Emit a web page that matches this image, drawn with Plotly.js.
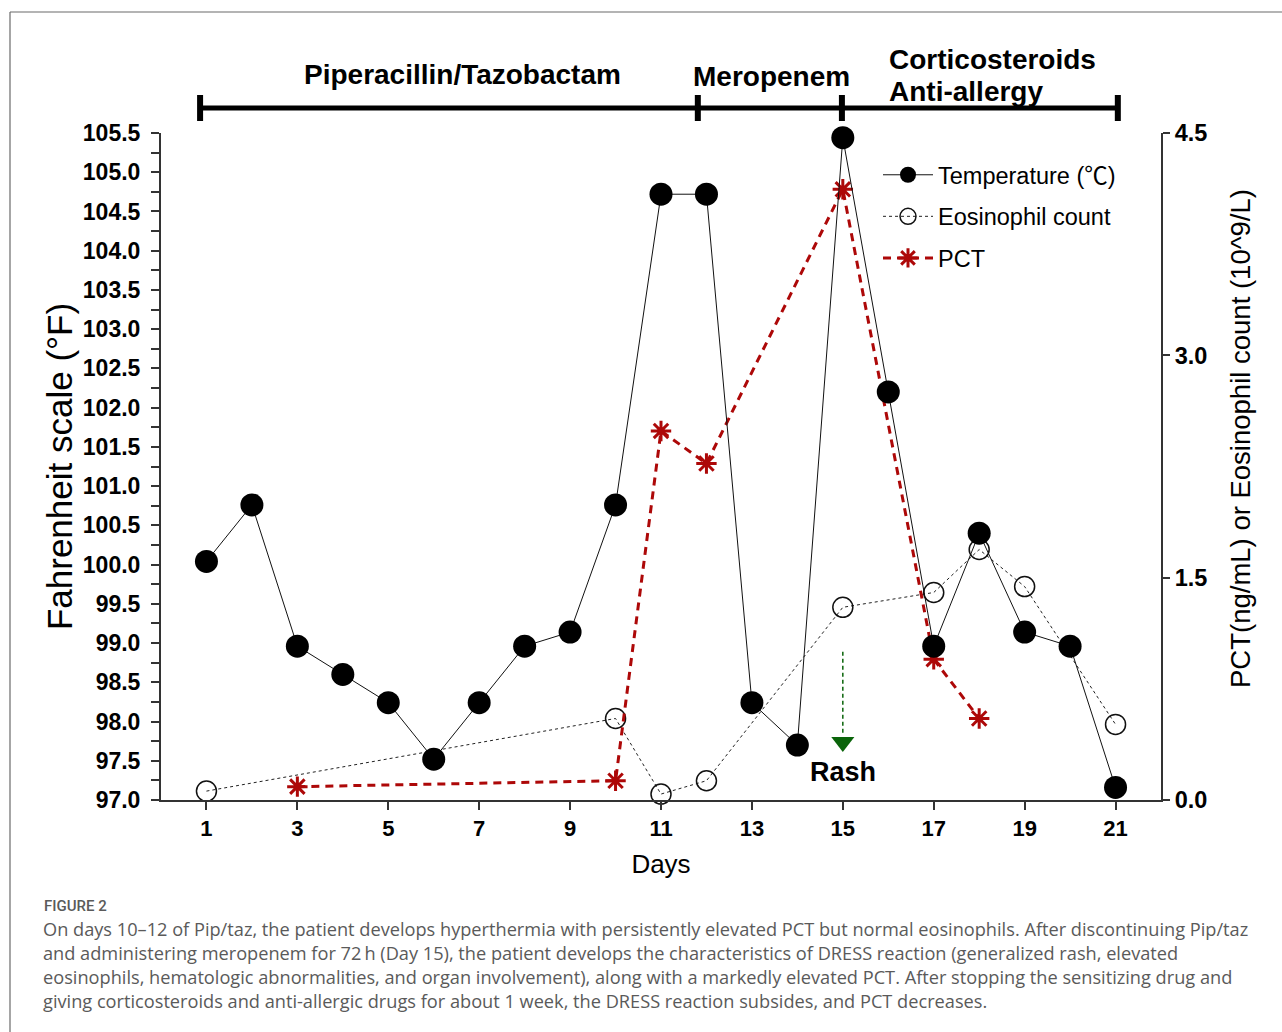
<!DOCTYPE html>
<html>
<head>
<meta charset="utf-8">
<script src="https://cdn.plot.ly/plotly-3.0.1.min.js"></script>
<style>
  html, body { margin: 0; padding: 0; background: #ffffff; }
  #chart { width: 1282px; height: 1032px; }
</style>
</head>
<body>
<div id="chart"></div>
<script>
// ---------- DATA ----------
const days = [1, 2, 3, 4, 5, 6, 7, 8, 9, 10, 11, 12, 13, 14, 15, 16, 17, 18, 19, 20, 21];
const temperatureF = [100.04, 100.76, 98.96, 98.6, 98.24, 97.52, 98.24, 98.96, 99.14, 100.76,
                      104.72, 104.72, 98.24, 97.7, 105.44, 102.2, 98.96, 100.4, 99.14, 98.96, 97.16];
const eosDays = [1, 10, 11, 12, 15, 17, 18, 19, 21];
const eosCount = [0.06, 0.55, 0.04, 0.13, 1.30, 1.40, 1.69, 1.44, 0.51];
const pctDays = [3, 10, 11, 12, 15, 17, 18];
const pctValues = [0.09, 0.13, 2.49, 2.27, 4.12, 0.95, 0.55];

const xTickVals = [1, 3, 5, 7, 9, 11, 13, 15, 17, 19, 21];
const rightTickVals = [0, 1.5, 3.0, 4.5];
const seriesNames = ['Temperature (\u2103)', 'Eosinophil count', 'PCT'];
const leftAxisTitle = 'Fahrenheit scale (\u00B0F)';
const rightAxisTitle = 'PCT(ng/mL) or Eosinophil count (10^9/L)';
const xAxisTitle = 'Days';

// treatment periods (day boundaries) and labels
const periodBounds = [0.86, 11.81, 14.98, 21.05];
const periodLabels = ['Piperacillin/Tazobactam', 'Meropenem', 'Corticosteroids', 'Anti-allergy'];
const rashDay = 15;
const rashLabel = 'Rash';

const captionTitle = 'FIGURE 2';
const captionLines = [
  'On days 10\u201312 of Pip/taz, the patient develops hyperthermia with persistently elevated PCT but normal eosinophils. After discontinuing Pip/taz',
  'and administering meropenem for 72\u2009h (Day 15), the patient develops the characteristics of DRESS reaction (generalized rash, elevated',
  'eosinophils, hematologic abnormalities, and organ involvement), along with a markedly elevated PCT. After stopping the sensitizing drug and',
  'giving corticosteroids and anti-allergic drugs for about 1 week, the DRESS reaction subsides, and PCT decreases.'
];

// ---------- STYLE ----------
const ARIAL = 'Liberation Sans, Arial, Helvetica, sans-serif';
const RED = '#ad0808';
const GREEN = '#0a640a';
const AX = '#333333';

// pixel helpers for the plot geometry (plot area 161..1161 x 133..800)
const L = 161, R = 1161, T = 133, B = 800;
const px2paperX = p => (p - L) / (R - L);
const py2paperY = p => (B - p) / (B - T);

const traces = [
  {
    x: eosDays, y: eosCount, name: seriesNames[1], yaxis: 'y', xaxis: 'x',
    type: 'scatter', mode: 'lines+markers', legendrank: 2, legendgroup: 'g2', cliponaxis: false,
    line: { color: '#222', width: 1, dash: 'dot' },
    marker: { symbol: 'circle-open', size: 20, color: '#111', line: { width: 1.5, color: '#111' } }
  },
  {
    x: pctDays, y: pctValues, name: seriesNames[2], yaxis: 'y', xaxis: 'x',
    type: 'scatter', mode: 'lines+markers', legendrank: 3, legendgroup: 'g3', cliponaxis: false,
    line: { color: RED, width: 3, dash: '8px,6px' },
    marker: { symbol: 'asterisk-open', size: 17, color: RED, line: { width: 3, color: RED } }
  },
  {
    x: days, y: temperatureF, name: seriesNames[0], yaxis: 'y2', xaxis: 'x',
    type: 'scatter', mode: 'lines+markers', legendrank: 1, legendgroup: 'g1', cliponaxis: false,
    line: { color: '#111', width: 1 },
    marker: { symbol: 'circle', size: 23, color: '#000' }
  },
  {
    // Rash pointer (dashed stem)
    x: [rashDay, rashDay], y: [98.89, 97.85], yaxis: 'y2', xaxis: 'x',
    type: 'scatter', mode: 'lines', showlegend: false, hoverinfo: 'skip',
    line: { color: GREEN, width: 1.5, dash: '4px,3px' }
  },
  {
    x: [rashDay], y: [97.74], yaxis: 'y2', xaxis: 'x',
    type: 'scatter', mode: 'markers', showlegend: false, hoverinfo: 'skip',
    marker: { symbol: 'triangle-down', size: 20, color: GREEN }
  }
];

const shapes = [];
// horizontal treatment bar
shapes.push({ type: 'line', xref: 'x', yref: 'paper',
  x0: periodBounds[0], x1: periodBounds[periodBounds.length - 1],
  y0: py2paperY(108), y1: py2paperY(108), line: { color: '#000', width: 5 } });
periodBounds.forEach(b => {
  shapes.push({ type: 'line', xref: 'x', yref: 'paper', x0: b, x1: b,
    y0: py2paperY(121), y1: py2paperY(95), line: { color: '#000', width: 6 } });
});
// figure frame (left and top border)
shapes.push({ type: 'line', xref: 'paper', yref: 'paper',
  x0: px2paperX(10), x1: px2paperX(10), y0: py2paperY(12), y1: py2paperY(1040),
  line: { color: '#6a6a6a', width: 1.2 } });
shapes.push({ type: 'line', xref: 'paper', yref: 'paper',
  x0: px2paperX(10), x1: px2paperX(1290), y0: py2paperY(12), y1: py2paperY(12),
  line: { color: '#6a6a6a', width: 1.2 } });

const annotations = [];
const labelFont = { family: ARIAL, size: 28, color: '#000', weight: 'bold' };
annotations.push({ xref: 'x', yref: 'paper', x: 6.64, y: py2paperY(74), text: '<b>' + periodLabels[0] + '</b>',
  showarrow: false, font: labelFont, xanchor: 'center', yanchor: 'middle' });
annotations.push({ xref: 'x', yref: 'paper', x: 13.42, y: py2paperY(76), text: '<b>' + periodLabels[1] + '</b>',
  showarrow: false, font: labelFont, xanchor: 'center', yanchor: 'middle' });
annotations.push({ xref: 'x', yref: 'paper', x: 15.98, y: py2paperY(59), text: '<b>' + periodLabels[2] + '</b>',
  showarrow: false, font: labelFont, xanchor: 'left', yanchor: 'middle', align: 'left' });
annotations.push({ xref: 'x', yref: 'paper', x: 15.98, y: py2paperY(91), text: '<b>' + periodLabels[3] + '</b>',
  showarrow: false, font: labelFont, xanchor: 'left', yanchor: 'middle', align: 'left' });
annotations.push({ xref: 'x', yref: 'y2', x: rashDay, y: 97.36, text: '<b>' + rashLabel + '</b>',
  showarrow: false, font: { family: ARIAL, size: 27, color: '#000' }, xanchor: 'center', yanchor: 'middle' });

// right axis title (placed off-centre as in the original figure)
annotations.push({ xref: 'paper', yref: 'paper', x: px2paperX(1240), y: py2paperY(439), text: rightAxisTitle,
  textangle: -90, showarrow: false, font: { family: ARIAL, size: 27.5, color: '#000' },
  xanchor: 'center', yanchor: 'middle' });

// caption
const CAPFONT = 'Open Sans, Lato, sans-serif';
annotations.push({ xref: 'paper', yref: 'paper', x: px2paperX(42), y: py2paperY(906), text: captionTitle,
  showarrow: false, font: { family: 'Roboto, Open Sans, sans-serif', size: 15, color: '#5a5a5a', weight: 500 },
  xanchor: 'left', yanchor: 'middle' });
captionLines.forEach((t, i) => {
  annotations.push({ xref: 'paper', yref: 'paper', x: px2paperX(41), y: py2paperY(929 + i * 24), text: t,
    showarrow: false, font: { family: CAPFONT, size: 18.2, color: '#5a5a5a' },
    xanchor: 'left', yanchor: 'middle' });
});

const layout = {
  width: 1282, height: 1032,
  margin: { l: L, r: 1282 - R, t: T, b: 1032 - B, pad: 0 },
  paper_bgcolor: '#ffffff', plot_bgcolor: '#ffffff',
  showlegend: true,
  font: { family: ARIAL, color: '#000' },
  xaxis: {
    range: [0, 22], tickvals: xTickVals, ticktext: xTickVals.map(String),
    showline: true, linecolor: AX, linewidth: 2, mirror: false,
    ticks: 'outside', ticklen: 8, tickwidth: 2, tickcolor: AX,
    showgrid: false, zeroline: false,
    tickfont: { family: ARIAL, size: 22, color: '#000', weight: 'bold' },
    title: { text: xAxisTitle, font: { family: ARIAL, size: 26, color: '#000' }, standoff: 14 }
  },
  yaxis: {
    range: [0, 4.5], side: 'right', tickvals: rightTickVals, tickformat: '.1f',
    showline: true, linecolor: AX, linewidth: 2,
    ticks: 'outside', ticklen: 7, tickwidth: 2, tickcolor: AX,
    showgrid: false, zeroline: false,
    tickfont: { family: ARIAL, size: 23.5, color: '#000', weight: 'bold' }
  },
  yaxis2: {
    range: [97, 105.5], overlaying: 'y', side: 'left', dtick: 0.5, tick0: 97, tickformat: '.1f',
    showline: true, linecolor: AX, linewidth: 2,
    ticks: 'outside', ticklen: 8, tickwidth: 2, tickcolor: AX, ticklabelstandoff: 6,
    minor: { dtick: 0.25, tick0: 97, ticks: 'outside', ticklen: 8, tickwidth: 2, tickcolor: AX, showgrid: false },
    showgrid: false, zeroline: false,
    tickfont: { family: ARIAL, size: 23, color: '#000', weight: 'bold' },
    title: { text: leftAxisTitle, font: { family: ARIAL, size: 35, color: '#000' }, standoff: 0 }
  },
  legend: {
    x: px2paperX(878), y: py2paperY(153), xanchor: 'left', yanchor: 'top',
    bgcolor: 'rgba(0,0,0,0)', borderwidth: 0, itemwidth: 50,
    font: { family: ARIAL + ', Noto Sans CJK SC', size: 23.5, color: '#000' },
    traceorder: 'grouped', tracegroupgap: 8
  },
  shapes: shapes,
  annotations: annotations
};

Plotly.newPlot('chart', traces, layout, { displayModeBar: false, staticPlot: true });
</script>
</body>
</html>
